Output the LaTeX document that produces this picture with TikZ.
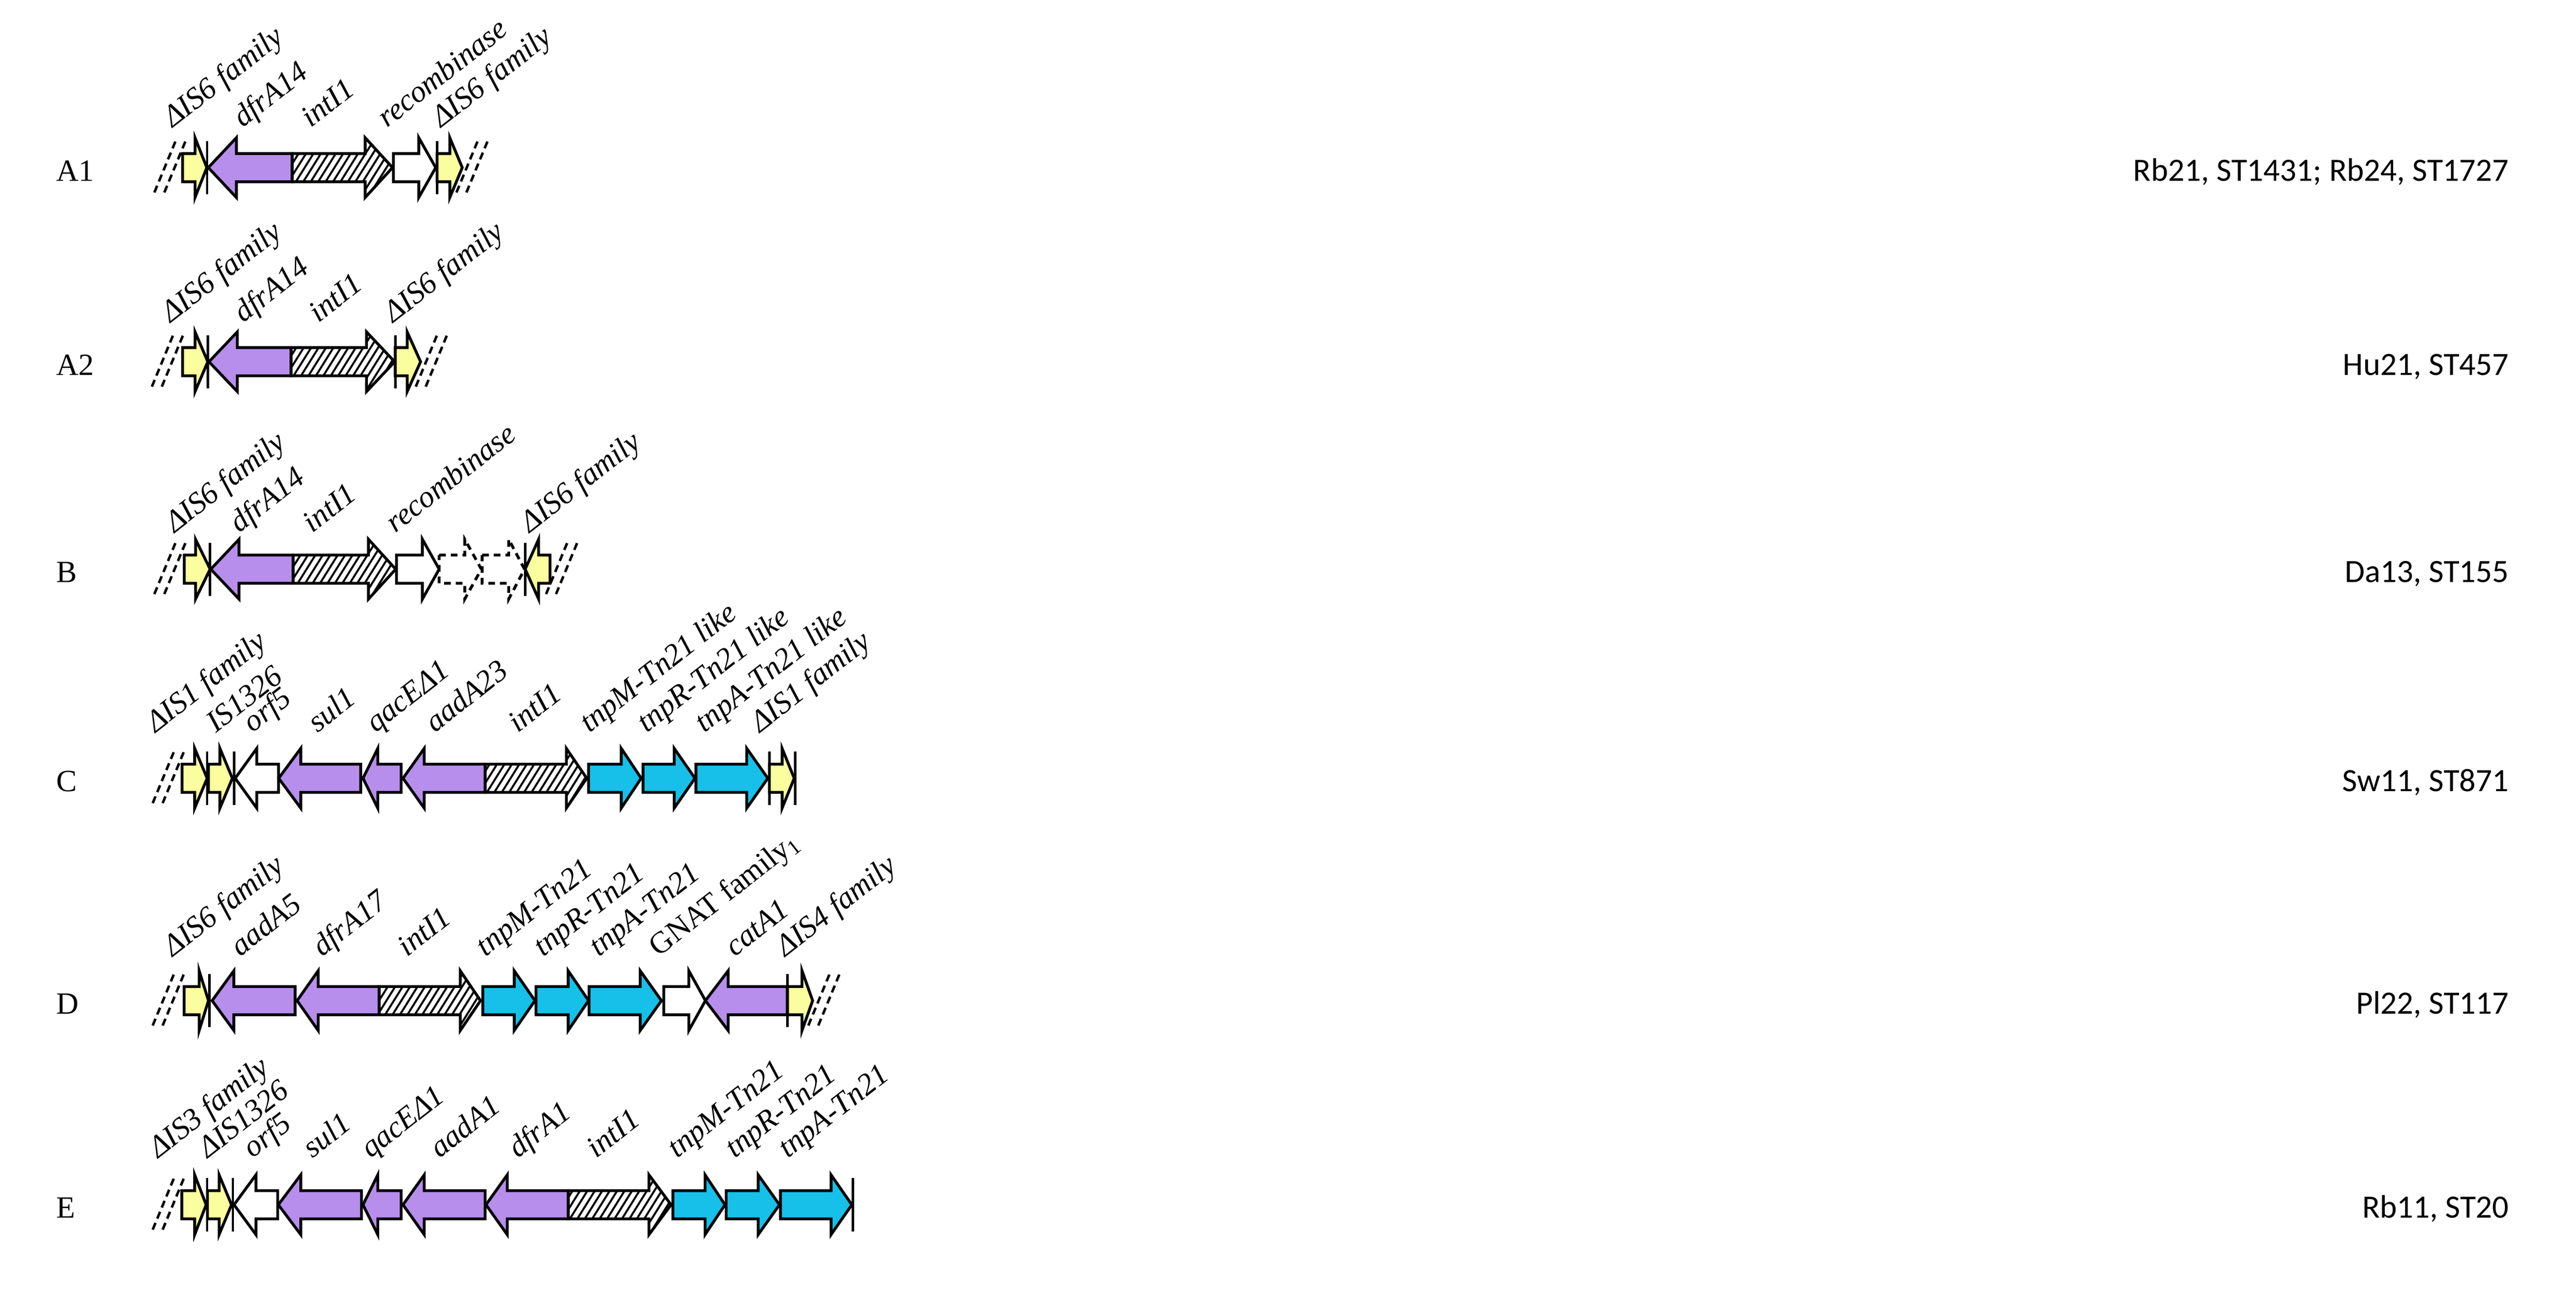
\documentclass[tikz,border=0pt]{standalone}
\usepackage{fontspec}
\setmainfont{Liberation Serif}
\newfontfamily\carlito{Carlito}
\usetikzlibrary{patterns.meta}
\definecolor{gyel}{HTML}{FAFE9E}
\definecolor{gpur}{HTML}{B78EEC}
\definecolor{gcya}{HTML}{16C0E8}
\tikzset{
 gbase/.style={draw=black,line width=0.85pt,line join=miter},
 yel/.style={gbase,fill=gyel},
 pur/.style={gbase,fill=gpur},
 cya/.style={gbase,fill=gcya},
 wht/.style={gbase,fill=white},
 dwht/.style={gbase,fill=white,dashed,dash pattern=on 2pt off 1.5pt},
 hat/.style={gbase,pattern={Lines[angle=58,distance=1.9pt,line width=0.6pt]}},
 glab/.style={rotate=38,anchor=base west,inner sep=0pt,font=\fontsize{9.2}{11}\selectfont\itshape},
 rowlab/.style={anchor=base west,inner sep=0pt,font=\fontsize{9.3}{11}\selectfont},
 isolab/.style={anchor=base east,inner sep=0pt,font=\fontsize{9.8}{11}\selectfont\carlito},
 brk/.style={line width=0.75pt,dash pattern=on 2.2pt off 1.4pt},
 barl/.style={line width=0.75pt}
}
\newcommand\gene[5]{\path[#1] (#2,#5-8.5)--(#3,#5-8.5)--(#3,#5-18)--(#4,#5)--(#3,#5+18)--(#3,#5+8.5)--(#2,#5+8.5)--cycle;}
\newcommand\brks[2]{\draw[brk] (#1,#2+15)--(#1+13.4,#2-17.5);\draw[brk] (#1+6,#2+15)--(#1+19.4,#2-17.5);}
\newcommand\vbar[2]{\draw[barl] (#1,#2-16)--(#1,#2+16);}
\newcommand\lab[4]{\node[glab] (#1) at (#2,#3) {#4};}
\begin{document}
\begin{tikzpicture}[x=0.5pt,y=-0.5pt]
\useasboundingbox (0,0) rectangle (1552,782);
% ---------- A1
\node[rowlab] (rA1) at (33.6,109) {A1};
\node[isolab] (iA1) at (1512,109) {Rb21, ST1431; Rb24, ST1727};
\brks{93}{101}
\gene{yel}{110}{117.5}{124.6}{101}
\vbar{124.8}{101}
\gene{pur}{176}{142.4}{125.5}{101}
\gene{hat}{176}{220}{236.5}{101}
\gene{wht}{237}{252.3}{262.5}{101}
\vbar{263.3}{101}
\gene{yel}{263.3}{271}{278.5}{101}
\brks{275}{101}
\lab{a1a}{103.8}{77.5}{ΔIS6 family}
\lab{a1b}{146}{77.5}{dfrA14}
\lab{a1c}{187}{77.5}{intI1}
\lab{a1d}{233}{77.5}{recombinase}
\lab{a1e}{265.5}{77.5}{ΔIS6 family}
% ---------- A2
\node[rowlab] (rA2) at (33.6,226) {A2};
\node[isolab] (iA2) at (1512,226) {Hu21, ST457};
\brks{91.5}{218}
\gene{yel}{110}{117.5}{125.2}{218}
\vbar{125.2}{218}
\gene{pur}{175.3}{143}{125.9}{218}
\gene{hat}{175.3}{220.8}{237.8}{218}
\vbar{238.1}{218}
\gene{yel}{238.1}{245.3}{253.4}{218}
\brks{250.5}{218}
\lab{a2a}{102.7}{195}{ΔIS6 family}
\lab{a2b}{146.4}{195}{dfrA14}
\lab{a2c}{191.6}{195}{intI1}
\lab{a2d}{236.7}{195}{ΔIS6 family}
% ---------- B
\node[rowlab] (rB) at (33.6,351) {B};
\node[isolab] (iB) at (1512,351) {Da13, ST155};
\brks{93}{343}
\gene{yel}{111}{117.8}{126.6}{343}
\vbar{126.6}{343}
\gene{pur}{176.6}{144}{127}{343}
\gene{hat}{176.6}{222}{238.4}{343}
\gene{wht}{238.9}{254.5}{264.6}{343}
\gene{dwht}{264.6}{280}{290}{343}
\gene{dwht}{290.5}{306.5}{316}{343}
\vbar{316.4}{343}
\gene{yel}{331.4}{324.5}{316.4}{343}
\brks{329}{343}
\lab{ba}{105}{321.6}{ΔIS6 family}
\lab{bb}{144}{321.6}{dfrA14}
\lab{bc}{188}{321.6}{intI1}
\lab{bd}{238}{321.6}{recombinase}
\lab{be}{319}{321.6}{ΔIS6 family}
% ---------- C
\node[rowlab] (rC) at (33.6,477) {C};
\node[isolab] (iC) at (1512,477) {Sw11, ST871};
\brks{92}{469}
\gene{yel}{109.7}{117.3}{124.8}{469}
\vbar{124.8}{469}
\gene{yel}{125.6}{132.5}{140}{469}
\vbar{141}{469}
\gene{wht}{167.8}{154.7}{141.7}{469}
\gene{pur}{217.3}{181.2}{167.9}{469}
\gene{pur}{241.7}{227.6}{218.7}{469}
\gene{pur}{292.3}{255.6}{242.8}{469}
\gene{hat}{292.3}{341.2}{353.5}{469}
\gene{cya}{354.6}{374.3}{386.3}{469}
\gene{cya}{387.4}{406.2}{418.7}{469}
\gene{cya}{419.3}{449.9}{462.6}{469}
\vbar{463.5}{469}
\gene{yel}{463.5}{471.2}{478.5}{469}
\vbar{479}{469}
\lab{ca}{93.6}{442}{ΔIS1 family}
\lab{cb}{129.8}{442}{IS1326}
\lab{cc}{152}{442}{orf5}
\lab{cd}{191}{442}{sul1}
\lab{ce}{226}{442}{qacEΔ1}
\lab{cf}{261.7}{442}{aadA23}
\lab{cg}{311.8}{442}{intI1}
\lab{ch}{354.8}{442}{tnpM-Tn21 like}
\lab{ci}{389.5}{442}{tnpR-Tn21 like}
\lab{cj}{424.3}{442}{tnpA-Tn21 like}
\lab{ck}{457.6}{442}{ΔIS1 family}
% ---------- D
\node[rowlab] (rD) at (33.6,611) {D};
\node[isolab] (iD) at (1512,611) {Pl22, ST117};
\brks{92}{603}
\gene{yel}{110.9}{120}{125.6}{603}
\vbar{126.3}{603}
\gene{pur}{177.8}{140.9}{127.8}{603}
\gene{pur}{228.4}{191.7}{179}{603}
\gene{hat}{228.4}{277.3}{289.5}{603}
\gene{cya}{290.9}{309.8}{322.3}{603}
\gene{cya}{322.9}{342.3}{354.6}{603}
\gene{cya}{354.9}{385.7}{398.5}{603}
\gene{wht}{399.9}{415}{425}{603}
\gene{pur}{474.3}{438.7}{425}{603}
\vbar{474.5}{603}
\gene{yel}{474.5}{483.2}{489.6}{603}
\brks{487}{603}
\lab{da}{103.9}{577}{ΔIS6 family}
\lab{db}{144.5}{577}{aadA5}
\lab{dc}{193.7}{577}{dfrA17}
\lab{dd}{245}{577}{intI1}
\lab{de}{292.3}{577}{tnpM-Tn21}
\lab{df}{327}{577}{tnpR-Tn21}
\lab{dg}{360.4}{577}{tnpA-Tn21}
\lab{dh}{396.5}{577}{\upshape GNAT family\textsubscript{1}}
\lab{di}{442.4}{577}{catA1}
\lab{dj}{473}{577}{ΔIS4 family}
% ---------- E
\node[rowlab] (rE) at (33.6,734) {E};
\node[isolab] (iE) at (1512,734) {Rb11, ST20};
\brks{92}{726}
\gene{yel}{109.5}{117.3}{124.2}{726}
\vbar{124.8}{726}
\gene{yel}{125}{132}{139.5}{726}
\vbar{140.3}{726}
\gene{wht}{167.3}{154.2}{141}{726}
\gene{pur}{217.8}{181.2}{167.7}{726}
\gene{pur}{241.7}{227.6}{218.7}{726}
\gene{pur}{292.3}{255.6}{242.8}{726}
\gene{pur}{342.3}{305.6}{292.8}{726}
\gene{hat}{342.3}{391}{404.3}{726}
\gene{cya}{405.4}{424.8}{436.8}{726}
\gene{cya}{437.5}{456.8}{469.6}{726}
\gene{cya}{470.2}{500.7}{513.2}{726}
\vbar{513.8}{726}
\lab{ea}{95}{698.5}{ΔIS3 family}
\lab{eb}{125}{698.5}{ΔIS1326}
\lab{ec}{152}{698.5}{orf5}
\lab{ed}{188}{698.5}{sul1}
\lab{ee}{223}{698.5}{qacEΔ1}
\lab{ef}{264.5}{698.5}{aadA1}
\lab{eg}{311.8}{698.5}{dfrA1}
\lab{eh}{359}{698.5}{intI1}
\lab{ei}{407.6}{698.5}{tnpM-Tn21}
\lab{ej}{442.4}{698.5}{tnpR-Tn21}
\lab{ek}{474.3}{698.5}{tnpA-Tn21}
\end{tikzpicture}
\end{document}
